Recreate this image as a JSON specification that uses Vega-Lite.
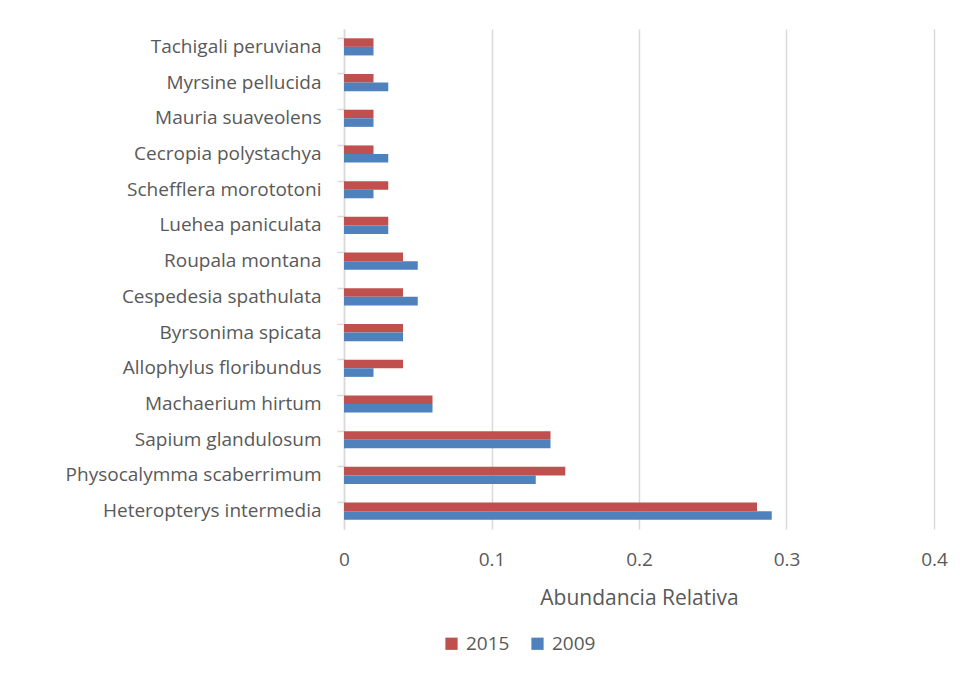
{
  "$schema": "https://vega.github.io/schema/vega-lite/v6.json",
  "autosize": "none",
  "width": 590,
  "height": 500,
  "padding": {"left": 344, "top": 29, "right": 26, "bottom": 155},
  "background": "white",
  "config": {"view": {"stroke": null}, "font": "Open Sans"},
  "data": {"values": [
    {"species": "Tachigali peruviana", "year": "2015", "value": 0.02},
    {"species": "Tachigali peruviana", "year": "2009", "value": 0.02},
    {"species": "Myrsine pellucida", "year": "2015", "value": 0.02},
    {"species": "Myrsine pellucida", "year": "2009", "value": 0.03},
    {"species": "Mauria suaveolens", "year": "2015", "value": 0.02},
    {"species": "Mauria suaveolens", "year": "2009", "value": 0.02},
    {"species": "Cecropia polystachya", "year": "2015", "value": 0.02},
    {"species": "Cecropia polystachya", "year": "2009", "value": 0.03},
    {"species": "Schefflera morototoni", "year": "2015", "value": 0.03},
    {"species": "Schefflera morototoni", "year": "2009", "value": 0.02},
    {"species": "Luehea paniculata", "year": "2015", "value": 0.03},
    {"species": "Luehea paniculata", "year": "2009", "value": 0.03},
    {"species": "Roupala montana", "year": "2015", "value": 0.04},
    {"species": "Roupala montana", "year": "2009", "value": 0.05},
    {"species": "Cespedesia spathulata", "year": "2015", "value": 0.04},
    {"species": "Cespedesia spathulata", "year": "2009", "value": 0.05},
    {"species": "Byrsonima spicata", "year": "2015", "value": 0.04},
    {"species": "Byrsonima spicata", "year": "2009", "value": 0.04},
    {"species": "Allophylus floribundus", "year": "2015", "value": 0.04},
    {"species": "Allophylus floribundus", "year": "2009", "value": 0.02},
    {"species": "Machaerium hirtum", "year": "2015", "value": 0.06},
    {"species": "Machaerium hirtum", "year": "2009", "value": 0.06},
    {"species": "Sapium glandulosum", "year": "2015", "value": 0.14},
    {"species": "Sapium glandulosum", "year": "2009", "value": 0.14},
    {"species": "Physocalymma scaberrimum", "year": "2015", "value": 0.15},
    {"species": "Physocalymma scaberrimum", "year": "2009", "value": 0.13},
    {"species": "Heteropterys intermedia", "year": "2015", "value": 0.28},
    {"species": "Heteropterys intermedia", "year": "2009", "value": 0.29}
  ]},
  "mark": {"type": "bar"},
  "encoding": {
    "y": {
      "field": "species", "type": "nominal", "sort": null,
      "scale": {"paddingInner": 0.52, "paddingOuter": 0.26},
      "axis": {
        "title": null, "bandPosition": 0, "tickSize": 7, "tickColor": "#D9D9D9", "tickWidth": 1.5,
        "domainColor": "#D9D9D9", "domainWidth": 1.5, "labelFontSize": 19, "labelColor": "#595959",
        "labelPadding": 16, "labelLimit": 400, "grid": false
      }
    },
    "yOffset": {"field": "year", "type": "nominal", "sort": ["2015", "2009"]},
    "x": {
      "field": "value", "type": "quantitative",
      "scale": {"domain": [0, 0.4], "nice": false},
      "axis": {
        "title": "Abundancia Relativa", "titleFontSize": 21, "titleFontWeight": "normal", "titleColor": "#595959",
        "titlePadding": 18, "values": [0, 0.1, 0.2, 0.3, 0.4], "format": "~g",
        "labelFontSize": 19, "labelColor": "#595959", "labelPadding": 21, "labelOverlap": false, "labelFlush": false,
        "ticks": false, "domain": false,
        "grid": true, "gridColor": "#D9D9D9", "gridWidth": 1.5
      }
    },
    "color": {
      "field": "year", "type": "nominal",
      "scale": {"domain": ["2015", "2009"], "range": ["#C0504D", "#4F81BD"]},
      "legend": {
        "title": null, "orient": "none", "legendX": 98, "legendY": 605, "direction": "horizontal",
        "symbolType": "square", "symbolSize": 150, "symbolStrokeWidth": 0, "labelFontSize": 19, "labelColor": "#595959",
        "columnPadding": 18, "labelOffset": 5
      }
    }
  }
}
